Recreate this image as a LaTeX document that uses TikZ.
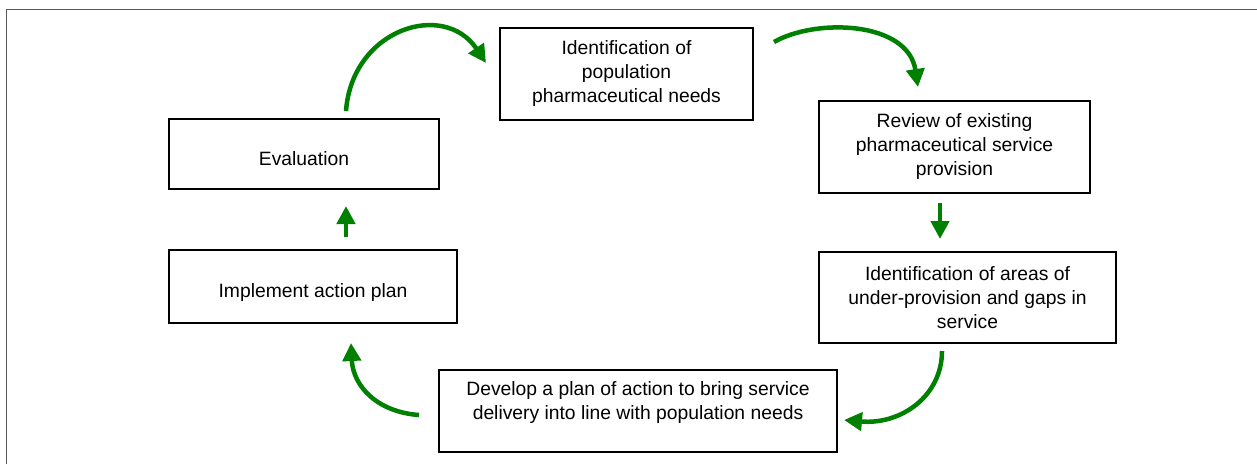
\documentclass[tikz,border=0pt]{standalone}
\usepackage{fontspec}
\setmainfont{Liberation Sans}
\usetikzlibrary{arrows.meta}
\definecolor{flowgreen}{RGB}{0,128,0}
\definecolor{framegray}{RGB}{90,90,90}
\begin{document}
\begin{tikzpicture}[x=1pt,y=-1pt,
  stepbox/.style={draw=black,line width=2pt,fill=white,inner sep=0pt,align=center,
    font=\fontsize{19.3}{24}\selectfont},
  lowtext/.style={text height=22pt,text depth=0pt},
  plaintext/.style={inner sep=0pt,align=center,font=\fontsize{19.3}{24}\selectfont},
  arr/.style={draw=flowgreen,line width=4.5pt,-{Triangle[length=18pt,width=18pt]}}]
\useasboundingbox (0,0) rectangle (1257,464);
\draw[framegray,line width=1.5pt] (6.5,464) -- (6.5,9.5) -- (1257,9.5);

\node[stepbox,lowtext,minimum width=270pt,minimum height=70pt] (eval) at (304,154) {Evaluation};
\node[stepbox,minimum width=253pt,minimum height=92pt] (need) at (626.5,74)
  {Identification of\\population\\pharmaceutical needs};
\node[stepbox,minimum width=271pt,minimum height=92pt] (review) at (954.5,147)
  {Review of existing\\pharmaceutical service\\provision};
\node[stepbox,minimum width=297pt,minimum height=91pt] (gaps) at (967.5,297.5)
  {Identification of areas of\\under-provision and gaps in\\service};
\node[stepbox,minimum width=398pt,minimum height=82pt] (plan) at (638,411) {};
\node[plaintext] (plantext) at (638,403)
  {Develop a plan of action to bring service\\delivery into line with population needs};
\node[stepbox,lowtext,minimum width=288pt,minimum height=73pt] (impl) at (313,286.5) {Implement action plan};

% arcs
\draw[arr] ([shift={(42pt,7pt)}]eval.north) .. controls +(6,-82) and +(-42,-63) .. ([shift={(-13pt,11pt)}]need.west);
\draw[arr] ([shift={(20pt,32pt)}]need.east) .. controls +(42,-24) and +(-10,-66) .. ([shift={(-36.5pt,13pt)}]review.north);
\draw[arr, shorten <=9pt, shorten >=12pt] ([xshift=-14.5pt]review.south) -- ([xshift=-27.5pt]gaps.north);
\draw[arr] ([shift={(-25.5pt,-7pt)}]gaps.south) .. controls +(0,45) and +(57,5) .. ([shift={(6pt,-9pt)}]plan.east);
\draw[arr] ([shift={(-19pt,-4pt)}]plan.west) .. controls +(-42,-3) and +(2,43) .. ([shift={(38pt,-19pt)}]impl.south);
\draw[arr, shorten <=12pt, shorten >=16pt] ([xshift=33pt]impl.north) -- ([xshift=42pt]eval.south);
\end{tikzpicture}
\end{document}
